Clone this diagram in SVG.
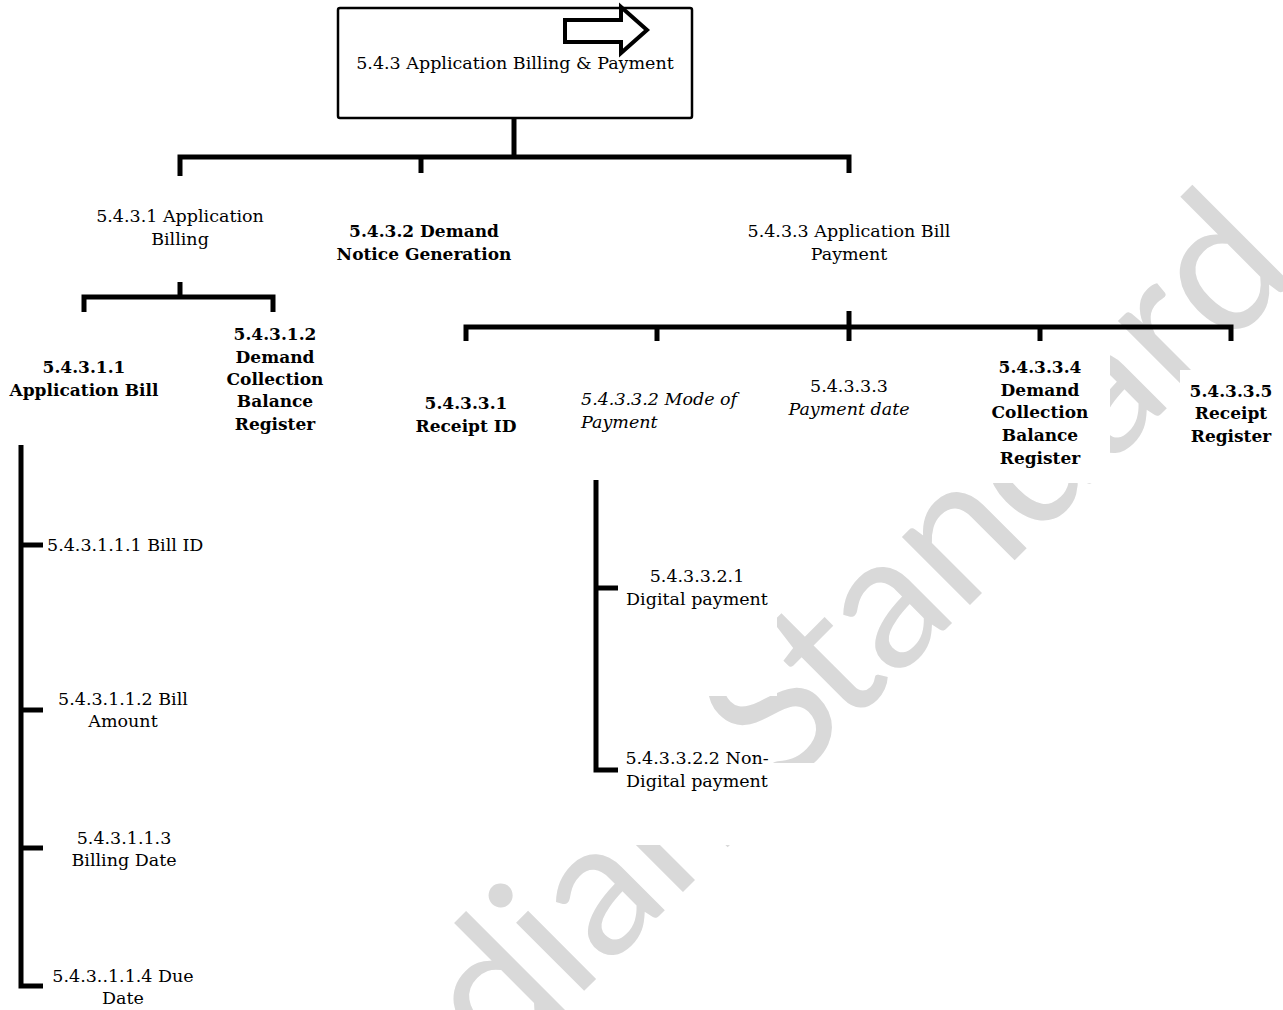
<svg xmlns="http://www.w3.org/2000/svg" width="1283" height="1010" viewBox="0 0 1283 1010">
<style>
text{font-family:"DejaVu Serif","Liberation Serif",serif;font-size:17.5px;fill:#000;text-anchor:middle}
.b{font-weight:bold;font-size:17px}
.i{font-style:italic}
.l{text-anchor:start}
.bg{fill:#fff;stroke:none}
.wm{font-family:Lato,"Open Sans",sans-serif;font-size:190px;fill:#d9d9d9;text-anchor:middle}
.c{fill:none;stroke:#000;stroke-width:5;stroke-linejoin:miter;stroke-linecap:butt}
</style>
<rect width="1283" height="1010" fill="#fff"/>
<text class="wm" transform="translate(590,985) rotate(-45)" x="-258 -180 -75 0 71 171 250 322 396 477 577 681 781 864 952" y="0">Indian Standard</text>

<g id="root">
<rect x="338" y="8" width="354" height="110" rx="2" fill="#fff" stroke="#000" stroke-width="2.5"/>
<text x="515" y="69">5.4.3 Application Billing &amp; Payment</text>
<path d="M565,20 H621 V7 L647,30 L621,53 V42 H565 Z" fill="#fff" stroke="#000" stroke-width="4" stroke-linejoin="miter"/>
</g>

<g id="n5431">
<rect class="bg" x="90" y="203" width="180" height="48"/>
<text x="180" y="222">5.4.3.1 Application</text>
<text x="180" y="245">Billing</text>
</g>
<g id="n5432">
<rect class="bg" x="328" y="218" width="186" height="48"/>
<text class="b" x="424" y="237">5.4.3.2 Demand</text>
<text class="b" x="424" y="260">Notice Generation</text>
</g>
<g id="n5433">
<rect class="bg" x="740" y="218" width="218" height="48"/>
<text x="849" y="237">5.4.3.3 Application Bill</text>
<text x="849" y="260">Payment</text>
</g>

<g id="n54311">
<rect class="bg" x="4" y="354" width="162" height="48"/>
<text class="b" x="84" y="373">5.4.3.1.1</text>
<text class="b" x="84" y="396">Application Bill</text>
</g>
<g id="n54312">
<rect class="bg" x="222" y="321" width="106" height="116"/>
<text class="b" x="275" y="340">5.4.3.1.2</text>
<text class="b" x="275" y="363">Demand</text>
<text class="b" x="275" y="385">Collection</text>
<text class="b" x="275" y="407">Balance</text>
<text class="b" x="275" y="430">Register</text>
</g>

<g id="n54331">
<rect class="bg" x="412" y="390" width="108" height="48"/>
<text class="b" x="466" y="409">5.4.3.3.1</text>
<text class="b" x="466" y="432">Receipt ID</text>
</g>
<g id="n54332">
<rect class="bg" x="576" y="386" width="160" height="48"/>
<text class="i l" x="581" y="405">5.4.3.3.2 Mode of</text>
<text class="i l" x="581" y="428">Payment</text>
</g>
<g id="n54333">
<rect class="bg" x="784" y="373" width="130" height="48"/>
<text x="849" y="392">5.4.3.3.3</text>
<text class="i" x="849" y="415">Payment date</text>
</g>
<g id="n54334">
<rect class="bg" x="975" y="341" width="135" height="142"/>
<text class="b" x="1040" y="373">5.4.3.3.4</text>
<text class="b" x="1040" y="396">Demand</text>
<text class="b" x="1040" y="418">Collection</text>
<text class="b" x="1040" y="441">Balance</text>
<text class="b" x="1040" y="464">Register</text>
</g>
<g id="n54335">
<rect class="bg" x="1180" y="370" width="103" height="80"/>
<text class="b" x="1231" y="397">5.4.3.3.5</text>
<text class="b" x="1231" y="419">Receipt</text>
<text class="b" x="1231" y="442">Register</text>
</g>

<g id="n543111">
<text class="l" x="47" y="551">5.4.3.1.1.1 Bill ID</text>
</g>
<g id="n543112">
<text x="123" y="705">5.4.3.1.1.2 Bill</text>
<text x="123" y="727">Amount</text>
</g>
<g id="n543113">
<text x="124" y="844">5.4.3.1.1.3</text>
<text x="124" y="866">Billing Date</text>
</g>
<g id="n543114">
<text x="123" y="982">5.4.3..1.1.4 Due</text>
<text x="123" y="1004">Date</text>
</g>

<g id="n543321">
<rect class="bg" x="620" y="558" width="157" height="138"/>
<text x="697" y="582">5.4.3.3.2.1</text>
<text x="697" y="605">Digital payment</text>
</g>
<g id="n543322">
<rect class="bg" x="620" y="743" width="150" height="30"/>
<rect class="bg" x="598" y="763" width="262" height="82"/>
<text x="697" y="764">5.4.3.3.2.2 Non-</text>
<text x="697" y="787">Digital payment</text>
</g>

<g id="connectors">
<path class="c" d="M514,118 V157"/>
<path class="c" d="M180,176 V157 H849 V173"/>
<path class="c" d="M421,157 V173"/>
<path class="c" d="M180,282 V297"/>
<path class="c" d="M84,312 V297 H273 V312"/>
<path class="c" d="M849,311 V327"/>
<path class="c" d="M466,341 V327 H1231 V341"/>
<path class="c" d="M657,327 V341"/>
<path class="c" d="M849,327 V341"/>
<path class="c" d="M1040,327 V341"/>
<path class="c" d="M21,445 V986 H43"/>
<path class="c" d="M21,545 H43"/>
<path class="c" d="M21,710 H43"/>
<path class="c" d="M21,848 H43"/>
<path class="c" d="M596,480 V770 H618"/>
<path class="c" d="M596,588 H618"/>
</g>
</svg>
